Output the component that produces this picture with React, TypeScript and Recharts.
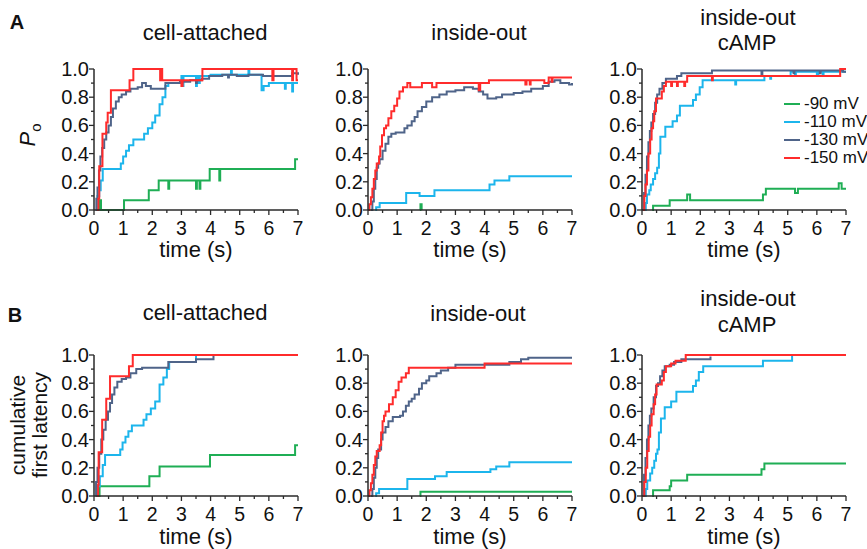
import React from 'react';
import { LineChart, Line, XAxis, YAxis } from 'recharts';

// colours per holding potential
const GREEN = '#1fae55';
const CYAN = '#1cb5ec';
const SLATE = '#4f6489';
const RED = '#ff2b2b';
const AXIS = '#2a2a2a';

const xTicks = [0, 0.5, 1, 1.5, 2, 2.5, 3, 3.5, 4, 4.5, 5, 5.5, 6, 6.5, 7];
const yTicks = [0, 0.1, 0.2, 0.3, 0.4, 0.5, 0.6, 0.7, 0.8, 0.9, 1.0];
const legendLabels = ['-90 mV', '-110 mV', '-130 mV', '-150 mV'];

// ---- A: Po, cell-attached  ([time s, value])
const a1_90 = [[0.18,0],[0.2,0.07],[0.24,0],[1.03,0.07],[1.88,0.14],[2.22,0.21],[2.55,0.15],[2.58,0.21],[3.5,0.15],[3.53,0.21],[3.62,0.15],[3.65,0.21],[3.97,0.29],[4.3,0.21],[4.33,0.29],[6.9,0.36],[7,0.36]];
const a1_110 = [[0.08,0],[0.12,0.1],[0.18,0.14],[0.23,0.21],[0.3,0.29],[0.92,0.33],[1.0,0.38],[1.1,0.42],[1.2,0.46],[1.35,0.5],[1.72,0.54],[1.85,0.58],[2.0,0.62],[2.1,0.67],[2.25,0.75],[2.35,0.8],[2.45,0.88],[2.55,0.9],[3.0,0.95],[3.03,0.88],[3.07,0.95],[3.5,0.88],[3.53,0.95],[3.6,0.9],[3.63,0.95],[4.0,0.96],[4.7,1.0],[4.73,0.96],[5.3,1.0],[5.33,0.96],[5.75,0.85],[5.82,0.88],[6.0,0.9],[6.55,0.86],[6.58,0.9],[6.8,0.84],[6.83,0.9],[7,0.9]];
const a1_130 = [[0.05,0],[0.08,0.08],[0.12,0.16],[0.17,0.28],[0.22,0.38],[0.28,0.44],[0.35,0.5],[0.42,0.55],[0.5,0.6],[0.58,0.66],[0.65,0.72],[0.75,0.77],[0.85,0.8],[0.95,0.82],[1.1,0.84],[1.25,0.86],[1.5,0.87],[1.65,0.9],[1.78,0.88],[1.95,0.86],[2.45,0.9],[2.95,0.91],[3.3,0.92],[3.5,0.9],[3.53,0.92],[3.7,0.93],[3.95,0.95],[4.4,0.96],[4.6,0.94],[4.63,0.96],[4.9,0.95],[5.3,0.96],[5.8,0.95],[6.3,0.95],[6.8,0.97],[7,0.96]];
const a1_150 = [[0.1,0],[0.15,0.08],[0.18,0.31],[0.29,0.54],[0.42,0.62],[0.47,0.69],[0.58,0.85],[1.22,0.92],[1.35,1.0],[2.27,0.92],[2.3,1.0],[2.34,0.92],[3.0,0.88],[3.04,0.92],[3.72,1.0],[6.12,0.92],[6.16,1.0],[6.8,0.92],[6.83,1.0],[6.95,0.92],[7,0.92]];

// ---- A: Po, inside-out
const a2_90 = [[1.78,0],[1.8,0.04],[1.84,0]];
const a2_110 = [[0.25,0],[0.28,0.02],[0.4,0.05],[1.31,0.12],[1.77,0.1],[2.28,0.14],[4.17,0.18],[4.34,0.21],[4.85,0.24],[7,0.24]];
const a2_130 = [[0.1,0],[0.15,0.06],[0.2,0.15],[0.25,0.22],[0.3,0.3],[0.35,0.33],[0.4,0.36],[0.5,0.42],[0.6,0.47],[0.7,0.52],[0.8,0.54],[0.95,0.55],[1.15,0.55],[1.25,0.58],[1.35,0.6],[1.5,0.63],[1.6,0.66],[1.7,0.7],[1.85,0.73],[2.0,0.77],[2.2,0.8],[2.45,0.82],[2.7,0.84],[3.0,0.85],[3.3,0.87],[3.6,0.86],[3.8,0.84],[3.95,0.82],[4.1,0.79],[4.4,0.8],[4.6,0.82],[5.0,0.83],[5.3,0.84],[5.6,0.86],[6.0,0.88],[6.2,0.91],[6.4,0.92],[6.6,0.9],[6.9,0.89],[7,0.9]];
const a2_150 = [[0,0],[0.05,0.04],[0.1,0.09],[0.15,0.15],[0.2,0.22],[0.25,0.28],[0.3,0.33],[0.38,0.38],[0.42,0.45],[0.48,0.53],[0.55,0.58],[0.62,0.6],[0.7,0.65],[0.8,0.7],[0.9,0.74],[1.0,0.79],[1.08,0.84],[1.2,0.87],[1.35,0.9],[1.45,0.87],[1.85,0.9],[2.2,0.87],[2.35,0.9],[3.8,0.85],[3.85,0.9],[4.15,0.92],[5.4,0.89],[5.44,0.92],[5.55,0.89],[5.58,0.92],[6.05,0.9],[6.2,0.94],[6.3,0.91],[6.33,0.94],[7,0.94]];

// ---- A: Po, inside-out cAMP
const a3_90 = [[0.35,0],[0.38,0.03],[0.95,0.07],[1.55,0.11],[1.65,0.07],[4.15,0.11],[4.25,0.15],[5.25,0.12],[5.35,0.15],[6.75,0.19],[6.85,0.15],[7,0.15]];
const a3_110 = [[0.1,0],[0.13,0.05],[0.17,0.11],[0.25,0.14],[0.3,0.18],[0.38,0.22],[0.45,0.26],[0.52,0.3],[0.58,0.4],[0.63,0.52],[0.8,0.59],[1.05,0.63],[1.2,0.67],[1.3,0.74],[1.75,0.78],[1.85,0.82],[1.98,0.87],[2.08,0.92],[3.2,0.89],[3.23,0.92],[4.2,0.95],[4.4,0.93],[4.43,0.95],[5.1,0.98],[5.25,0.96],[5.28,0.98],[6.0,0.96],[6.05,0.98],[6.2,0.96],[6.23,0.98],[7,0.98]];
const a3_130 = [[0.02,0],[0.07,0.12],[0.12,0.25],[0.17,0.38],[0.22,0.48],[0.27,0.56],[0.32,0.62],[0.38,0.68],[0.45,0.76],[0.52,0.82],[0.6,0.86],[0.7,0.9],[0.82,0.93],[1.2,0.95],[1.35,0.97],[2.4,0.99],[4.1,0.96],[4.13,0.99],[5.2,0.97],[5.23,0.99],[6.1,0.97],[6.13,0.99],[6.9,0.98],[7,0.98]];
const a3_150 = [[0.02,0],[0.08,0.1],[0.12,0.18],[0.17,0.28],[0.22,0.4],[0.28,0.5],[0.33,0.58],[0.38,0.63],[0.42,0.7],[0.48,0.79],[0.68,0.84],[0.75,0.88],[0.82,0.91],[1.0,0.88],[1.03,0.91],[1.2,0.88],[1.23,0.91],[1.45,0.88],[1.48,0.91],[1.55,0.95],[2.4,0.92],[2.43,0.95],[6.8,1.0],[7,1.0]];

// ---- B: cumulative first latency, cell-attached
const b1_90 = [[0.17,0],[0.19,0.07],[1.9,0.14],[2.25,0.21],[3.98,0.29],[6.9,0.36],[7,0.36]];
const b1_110 = [[0.08,0],[0.12,0.07],[0.2,0.14],[0.3,0.22],[0.38,0.29],[0.9,0.33],[0.98,0.38],[1.08,0.42],[1.18,0.46],[1.3,0.5],[1.7,0.54],[1.8,0.58],[1.95,0.62],[2.1,0.67],[2.25,0.79],[2.38,0.84],[2.5,0.9],[2.58,0.95],[3.5,1.0]];
const b1_130 = [[0.05,0],[0.07,0.1],[0.12,0.2],[0.18,0.3],[0.25,0.4],[0.32,0.47],[0.4,0.54],[0.48,0.6],[0.55,0.66],[0.62,0.72],[0.7,0.77],[0.8,0.81],[0.95,0.83],[1.1,0.84],[1.25,0.87],[1.45,0.9],[1.65,0.91],[2.55,0.95],[3.5,0.97],[4.1,1.0]];
const b1_150 = [[0.1,0],[0.14,0.08],[0.16,0.31],[0.28,0.54],[0.42,0.69],[0.55,0.85],[1.2,0.92],[1.33,1.0],[7,1.0]];

// ---- B: inside-out
const b2_90 = [[1.78,0],[1.8,0.03],[7,0.03]];
const b2_110 = [[0.25,0],[0.28,0.02],[0.38,0.05],[1.35,0.12],[2.3,0.14],[2.7,0.17],[4.2,0.19],[4.4,0.21],[4.85,0.24],[7,0.24]];
const b2_130 = [[0.1,0],[0.15,0.05],[0.2,0.13],[0.25,0.2],[0.3,0.27],[0.35,0.33],[0.45,0.4],[0.5,0.45],[0.6,0.49],[0.7,0.53],[0.85,0.56],[1.1,0.57],[1.2,0.6],[1.3,0.64],[1.4,0.67],[1.5,0.69],[1.6,0.72],[1.75,0.76],[1.85,0.8],[2.0,0.82],[2.1,0.85],[2.35,0.87],[2.5,0.89],[2.75,0.91],[3.0,0.93],[4.85,0.95],[5.25,0.97],[5.5,0.98],[7,0.98]];
const b2_150 = [[0,0],[0.05,0.04],[0.1,0.09],[0.15,0.15],[0.2,0.22],[0.25,0.28],[0.3,0.32],[0.4,0.36],[0.45,0.45],[0.5,0.53],[0.55,0.57],[0.6,0.6],[0.72,0.65],[0.85,0.7],[0.95,0.75],[1.05,0.81],[1.15,0.84],[1.3,0.87],[1.4,0.91],[4.0,0.94],[7,0.94]];

// ---- B: inside-out cAMP
const b3_90 = [[0.35,0],[0.38,0.04],[0.95,0.07],[1.0,0.11],[1.55,0.15],[4.1,0.19],[4.2,0.23],[7,0.23]];
const b3_110 = [[0.1,0],[0.13,0.05],[0.18,0.11],[0.28,0.16],[0.35,0.2],[0.42,0.25],[0.48,0.3],[0.53,0.33],[0.58,0.45],[0.65,0.55],[0.78,0.63],[1.0,0.67],[1.18,0.74],[1.75,0.78],[1.85,0.82],[1.95,0.88],[2.1,0.92],[4.15,0.96],[5.15,1.0]];
const b3_130 = [[0.02,0],[0.07,0.15],[0.12,0.27],[0.17,0.4],[0.22,0.5],[0.27,0.57],[0.32,0.62],[0.4,0.7],[0.48,0.78],[0.55,0.8],[0.62,0.85],[0.7,0.89],[0.78,0.92],[0.95,0.93],[1.1,0.95],[1.35,0.97],[2.35,0.99]];
const b3_150 = [[0.02,0],[0.08,0.1],[0.13,0.2],[0.18,0.32],[0.23,0.42],[0.28,0.5],[0.33,0.58],[0.4,0.65],[0.45,0.72],[0.5,0.79],[0.68,0.82],[0.75,0.88],[0.82,0.92],[1.0,0.94],[1.15,0.96],[1.5,1.0],[7,1.0]];

const COLORS = [GREEN, CYAN, SLATE, RED];
const PW = 204;
const PH = 141;
const FONT = '"Liberation Sans", Arial, Helvetica, sans-serif';

const toPts = (a: number[][]) => a.map(([t, v]) => ({ t, v }));

const XTick = (props: any) => {
  const { x, y, payload } = props;
  const v = payload.value;
  const major = Number.isInteger(v);
  return (
    <g>
      <line x1={x} y1={y} x2={x} y2={y + (major ? 5 : 3)} stroke={AXIS} strokeWidth={1.3} />
      {major && (
        <text x={x} y={y + 24.5} textAnchor="middle" fontSize={19.5} fill="#111" fontFamily={FONT}>
          {v}
        </text>
      )}
    </g>
  );
};

const YTick = (props: any) => {
  const { x, y, payload } = props;
  const v = payload.value;
  const major = Math.round(v * 10) % 2 === 0;
  return (
    <g>
      <line x1={x} y1={y} x2={x - (major ? 5 : 3)} y2={y} stroke={AXIS} strokeWidth={1.3} />
      {major && (
        <text x={x - 5} y={y + 7} textAnchor="end" fontSize={20} fill="#111" fontFamily={FONT}>
          {v.toFixed(1)}
        </text>
      )}
    </g>
  );
};

const Panel = ({ x0, top, series }: { x0: number; top: number; series: number[][][] }) => (
  <div style={{ position: 'absolute', left: x0 - 55, top: top - 10 }}>
    <LineChart width={55 + PW + 15} height={10 + PH + 50} margin={{ top: 10, right: 15, left: 15, bottom: 0 }}>
      <XAxis
        dataKey="t"
        type="number"
        domain={[0, 7]}
        ticks={xTicks}
        interval={0}
        tickSize={0}
        tickMargin={0}
        tick={<XTick />}
        height={50}
        stroke={AXIS}
        strokeWidth={1.5}
      />
      <YAxis
        type="number"
        domain={[0, 1]}
        ticks={yTicks}
        interval={0}
        tickSize={0}
        tickMargin={0}
        tick={<YTick />}
        width={40}
        stroke={AXIS}
        strokeWidth={1.5}
      />
      {series.map((s, i) => (
        <Line
          key={i}
          data={toPts(s)}
          dataKey="v"
          type="stepAfter"
          stroke={COLORS[i]}
          strokeWidth={2}
          dot={false}
          activeDot={false}
          isAnimationActive={false}
        />
      ))}
    </LineChart>
  </div>
);

const Txt = ({ x, y, children, size = 22, bold = false }: any) => (
  <div
    style={{
      position: 'absolute',
      left: x,
      top: y,
      transform: 'translate(-50%, -50%)',
      fontSize: size,
      lineHeight: 1,
      fontWeight: bold ? 700 : 400,
      whiteSpace: 'nowrap',
      color: '#111',
    }}
  >
    {children}
  </div>
);

const App = () => {
  const rowA = 69;
  const rowB = 355;
  const cols = [94, 368, 642];
  return (
    <div style={{ position: 'absolute', left: 0, top: 0, width: 867, height: 549, background: '#fff', fontFamily: FONT, overflow: 'hidden' }}>
      <Panel x0={cols[0]} top={rowA} series={[a1_90, a1_110, a1_130, a1_150]} />
      <Panel x0={cols[1]} top={rowA} series={[a2_90, a2_110, a2_130, a2_150]} />
      <Panel x0={cols[2]} top={rowA} series={[a3_90, a3_110, a3_130, a3_150]} />
      <Panel x0={cols[0]} top={rowB} series={[b1_90, b1_110, b1_130, b1_150]} />
      <Panel x0={cols[1]} top={rowB} series={[b2_90, b2_110, b2_130, b2_150]} />
      <Panel x0={cols[2]} top={rowB} series={[b3_90, b3_110, b3_130, b3_150]} />

      <Txt x={17} y={22} size={20} bold>A</Txt>
      <Txt x={15} y={315} size={20} bold>B</Txt>

      <Txt x={205} y={33}>cell-attached</Txt>
      <Txt x={479} y={33}>inside-out</Txt>
      <Txt x={748} y={18}>inside-out</Txt>
      <Txt x={747} y={43}>cAMP</Txt>
      <Txt x={205} y={313}>cell-attached</Txt>
      <Txt x={478} y={314}>inside-out</Txt>
      <Txt x={748} y={299}>inside-out</Txt>
      <Txt x={747} y={325}>cAMP</Txt>

      {cols.map((c) => (
        <React.Fragment key={c}>
          <Txt x={c + PW / 2} y={250}>time (s)</Txt>
          <Txt x={c + PW / 2} y={537}>time (s)</Txt>
        </React.Fragment>
      ))}

      <div
        style={{
          position: 'absolute',
          left: 30,
          top: 135,
          transform: 'translate(-50%, -50%) rotate(-90deg)',
          fontSize: 22,
          lineHeight: 1,
          whiteSpace: 'nowrap',
          color: '#111',
        }}
      >
        <i>P</i>
        <sub style={{ fontSize: 15 }}>o</sub>
      </div>

      <div
        style={{
          position: 'absolute',
          left: 29,
          top: 425,
          transform: 'translate(-50%, -50%) rotate(-90deg)',
          fontSize: 21,
          lineHeight: '22px',
          whiteSpace: 'nowrap',
          textAlign: 'center',
          color: '#111',
        }}
      >
        cumulative
        <br />
        first latency
      </div>

      {legendLabels.map((l, i) => (
        <div
          key={l}
          style={{ position: 'absolute', left: 784, top: 104 + i * 18 - 10, height: 20, display: 'flex', alignItems: 'center', fontSize: 17, whiteSpace: 'nowrap', color: '#111' }}
        >
          <svg width={17} height={4} style={{ marginRight: 3 }}>
            <line x1={0} y1={2} x2={16} y2={2} stroke={COLORS[i]} strokeWidth={2} />
          </svg>
          {l}
        </div>
      ))}
    </div>
  );
};

export default App;
